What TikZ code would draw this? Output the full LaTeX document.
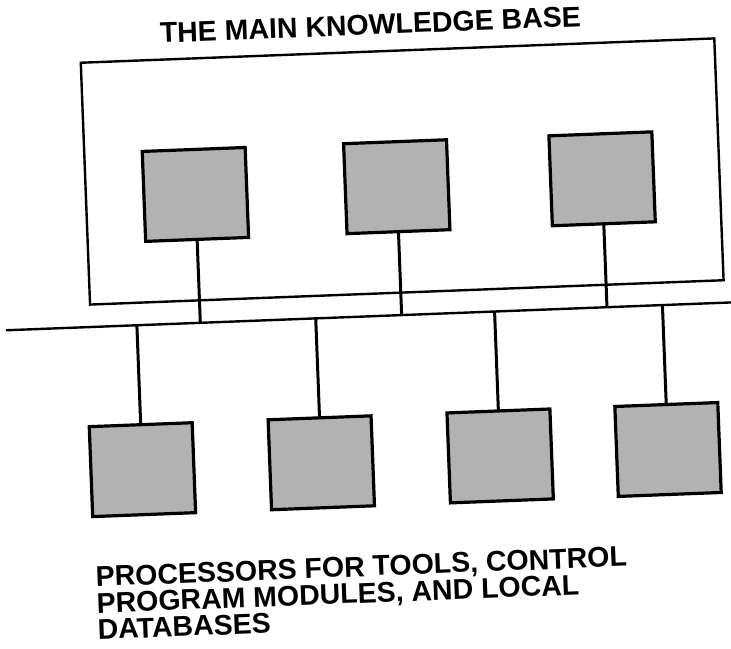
\documentclass[tikz,border=0pt]{standalone}
\usepackage{fontspec}
\setmainfont{Liberation Sans}
\begin{document}
\begin{tikzpicture}[x=1pt,y=-1pt,
  unit/.style={rectangle, draw=black, line width=3.2pt, fill=black!30,
    minimum width=103pt, minimum height=90pt, inner sep=0pt, outer sep=0pt},
  kbase/.style={rectangle, draw=black, line width=2.4pt,
    minimum width=634pt, minimum height=242pt, inner sep=0pt, outer sep=0pt},
  link/.style={line width=3pt},
  busline/.style={line width=2.4pt},
  caption/.style={font=\fontsize{28.5}{26.5}\selectfont\bfseries, inner sep=0pt, align=left}]
\useasboundingbox (0,0) rectangle (731,648);
\clip (0,0) rectangle (731,648);
\begin{scope}[rotate around={2.2:(365.5,324)}, transform shape]
  % knowledge base enclosure and its three units
  \node[kbase] (kb) at (408,173) {};
  \node[unit] (k1) at (200.5,188) {};
  \node[unit] (k2) at (402,188) {};
  \node[unit] (k3) at (607.5,188) {};

  % shared bus
  \coordinate (busW) at (6,316.5);
  \coordinate (busE) at (745,316.5);
  \draw[busline] (busW) -- (busE);

  % taps on the bus
  \coordinate (j1) at (200.5,316.5);
  \coordinate (j2) at (402,316.5);
  \coordinate (j3) at (607.5,316.5);
  \coordinate (j4) at (137,316.5);
  \coordinate (j5) at (316,316.5);
  \coordinate (j6) at (495,316.5);
  \coordinate (j7) at (663,316.5);

  % processors
  \node[unit] (p1) at (137,461) {};
  \node[unit] (p2) at (316,461) {};
  \node[unit] (p3) at (495,461) {};
  \node[unit] (p4) at (663,461) {};

  \draw[link] (k1.south) -- (j1);
  \draw[link] (k2.south) -- (j2);
  \draw[link] (k3.south) -- (j3);
  \draw[link] (j4) -- (p1.north);
  \draw[link] (j5) -- (p2.north);
  \draw[link] (j6) -- (p3.north);
  \draw[link] (j7) -- (p4.north);

  % labels
  \node[caption, anchor=base west] (title) at (171,35) {THE MAIN KNOWLEDGE BASE};
  \node[caption, anchor=north west] (legend) at (86,556)
    {PROCESSORS FOR TOOLS, CONTROL\\PROGRAM MODULES, AND LOCAL\\DATABASES};
\end{scope}
\end{tikzpicture}
\end{document}
